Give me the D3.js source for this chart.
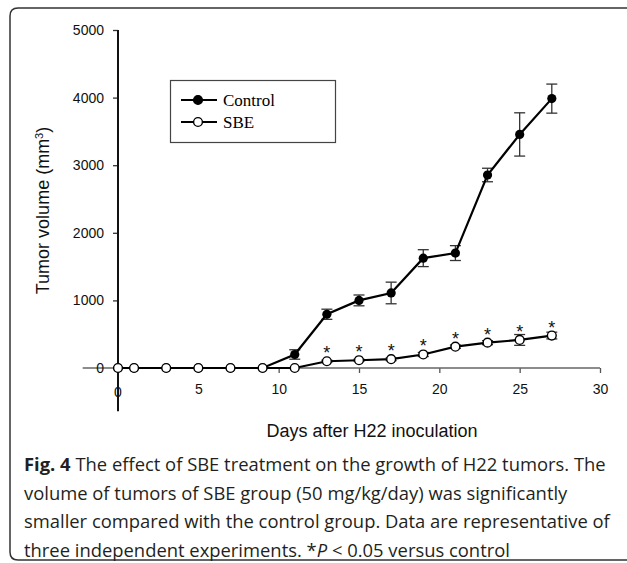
<!DOCTYPE html>
<html>
<head>
<meta charset="utf-8">
<script src="https://cdn.jsdelivr.net/npm/d3@7"></script>
<style>
  body { margin: 0; background: #fff; }
  svg { display: block; }
</style>
</head>
<body>
<div id="chart"></div>
<script>
// Days of measurement
const days = [0, 1, 3, 5, 7, 9, 11, 13, 15, 17, 19, 21, 23, 25, 27];

// Tumor volume (mm3), mean and error
const controlMean = [0, 0, 0, 0, 0, 0, 200, 795, 1000, 1110, 1625, 1700, 2855, 3455, 3985];
const controlErr  = [0, 0, 0, 0, 0, 0, 70, 75, 80, 160, 125, 110, 100, 320, 215];
const sbeMean = [0, 0, 0, 0, 0, 0, 0, 100, 115, 130, 200, 315, 375, 415, 480];
const sbeErr  = [0, 0, 0, 0, 0, 0, 0, 15, 15, 20, 30, 25, 30, 80, 50];
// significance marks (*P < 0.05)
const significant = [false, false, false, false, false, false, false, true, true, true, true, true, true, true, true];

const xTicks = [0, 5, 10, 15, 20, 25, 30];
const yTicks = [0, 1000, 2000, 3000, 4000, 5000];

const seriesNames = ["Control", "SBE"];

const captionLines = [
  [{ t: "Fig. 4", b: true }, { t: " The effect of SBE treatment on the growth of H22 tumors. The" }],
  [{ t: "volume of tumors of SBE group (50 mg/kg/day) was significantly" }],
  [{ t: "smaller compared with the control group. Data are representative of" }],
  [{ t: "three independent experiments. *" }, { t: "P", i: true }, { t: " < 0.05 versus control" }]
];

const W = 627, H = 563;

const svg = d3.select("#chart")
  .append("svg")
  .attr("width", W)
  .attr("height", H);

// Rounded frame (open on the right side)
svg.append("path")
  .attr("d", "M640,8 H18 Q10,8 10,16 V552 Q10,560 18,560 H640")
  .attr("fill", "none")
  .attr("stroke", "#333")
  .attr("stroke-width", 1.5);

const x = d3.scaleLinear().domain([0, 30]).range([118, 600]);
const y = d3.scaleLinear().domain([0, 5000]).range([368, 30]);

const tickFont = "Liberation Sans, Arial, sans-serif";

// X axis (gray, extends left past the y axis)
const xAxis = svg.append("g")
  .attr("transform", `translate(0,${y(0)})`)
  .call(d3.axisBottom(x).tickValues(xTicks.slice(1)).tickFormat(d3.format("d"))
    .tickSize(5).tickSizeOuter(0).tickPadding(11));
xAxis.select(".domain").remove();
xAxis.selectAll(".tick line").attr("stroke", "#555").attr("stroke-width", 1.3);
xAxis.selectAll(".tick text")
  .style("font-family", tickFont)
  .style("font-size", "14px")
  .attr("fill", "#111");
svg.append("line")
  .attr("x1", x(-2.2)).attr("x2", x(30))
  .attr("y1", y(0)).attr("y2", y(0))
  .attr("stroke", "#666")
  .attr("stroke-width", 1.5);

// Y axis
const yAxis = svg.append("g")
  .attr("transform", `translate(${x(0)},0)`)
  .call(d3.axisLeft(y).tickValues(yTicks).tickFormat(d3.format("d"))
    .tickSize(5).tickSizeOuter(0).tickPadding(9));
yAxis.select(".domain").remove();
yAxis.selectAll(".tick line").attr("stroke", "#333").attr("stroke-width", 1.3);
yAxis.selectAll(".tick text")
  .style("font-family", tickFont)
  .style("font-size", "14px")
  .attr("fill", "#111");

// x tick label "0" under the y axis line
svg.append("text")
  .attr("x", x(0))
  .attr("y", y(0) + 29)
  .attr("text-anchor", "middle")
  .style("font-family", tickFont)
  .style("font-size", "14px")
  .attr("fill", "#111")
  .text(xTicks[0]);

svg.append("line")
  .attr("x1", x(0)).attr("x2", x(0))
  .attr("y1", y(5000)).attr("y2", y(-640))
  .attr("stroke", "#111")
  .attr("stroke-width", 2);

// Axis titles
svg.append("text")
  .attr("x", 372)
  .attr("y", 437)
  .attr("text-anchor", "middle")
  .style("font-family", tickFont)
  .style("font-size", "18px")
  .attr("fill", "#111")
  .text("Days after H22 inoculation");

const yTitle = svg.append("text")
  .attr("transform", `translate(49,${y(2330)}) rotate(-90)`)
  .attr("text-anchor", "middle")
  .style("font-family", tickFont)
  .style("font-size", "18px")
  .attr("fill", "#111");
yTitle.append("tspan").text("Tumor volume (mm");
yTitle.append("tspan").attr("baseline-shift", "super").style("font-size", "11px").text("3");
yTitle.append("tspan").text(")");

// Build series rows
const control = days.map((d, i) => ({ day: d, v: controlMean[i], e: controlErr[i] }));
const sbe = days.map((d, i) => ({ day: d, v: sbeMean[i], e: sbeErr[i], sig: significant[i] }));

const line = d3.line().x(d => x(d.day)).y(d => y(d.v));

function drawErrors(data) {
  const g = svg.append("g");
  data.filter(d => d.e > 0).forEach(d => {
    const cx = x(d.day);
    g.append("line")
      .attr("x1", cx).attr("x2", cx)
      .attr("y1", y(d.v - d.e)).attr("y2", y(d.v + d.e))
      .attr("stroke", "#333").attr("stroke-width", 1.3);
    [d.v - d.e, d.v + d.e].forEach(v => {
      g.append("line")
        .attr("x1", cx - 5.5).attr("x2", cx + 5.5)
        .attr("y1", y(v)).attr("y2", y(v))
        .attr("stroke", "#333").attr("stroke-width", 1.3);
    });
  });
}

// Control series
drawErrors(control);
svg.append("path")
  .datum(control)
  .attr("d", line)
  .attr("fill", "none")
  .attr("stroke", "#000")
  .attr("stroke-width", 2.2);
svg.selectAll(".ctrl")
  .data(control)
  .enter().append("circle")
  .attr("cx", d => x(d.day))
  .attr("cy", d => y(d.v))
  .attr("r", 4.6)
  .attr("fill", "#000");

// SBE series
drawErrors(sbe);
svg.append("path")
  .datum(sbe)
  .attr("d", line)
  .attr("fill", "none")
  .attr("stroke", "#000")
  .attr("stroke-width", 2.2);
svg.selectAll(".sbe")
  .data(sbe)
  .enter().append("circle")
  .attr("cx", d => x(d.day))
  .attr("cy", d => y(d.v))
  .attr("r", 4.4)
  .attr("fill", "#fff")
  .attr("stroke", "#000")
  .attr("stroke-width", 1.4);

// Significance asterisks
svg.selectAll(".star")
  .data(sbe.filter(d => d.sig))
  .enter().append("text")
  .attr("x", d => x(d.day))
  .attr("y", d => y(d.v) - 2)
  .attr("text-anchor", "middle")
  .style("font-family", tickFont)
  .style("font-size", "18px")
  .attr("fill", "#111")
  .text("*");

// Legend
const legend = svg.append("g");
legend.append("rect")
  .attr("x", 170.5).attr("y", 80.5)
  .attr("width", 165).attr("height", 62)
  .attr("fill", "#fff")
  .attr("stroke", "#444")
  .attr("stroke-width", 1.2);
seriesNames.forEach((name, i) => {
  const ly = 100 + i * 22;
  legend.append("line")
    .attr("x1", 181).attr("x2", 217)
    .attr("y1", ly).attr("y2", ly)
    .attr("stroke", "#000").attr("stroke-width", 2.2);
  legend.append("circle")
    .attr("cx", 198).attr("cy", ly)
    .attr("r", 4.4)
    .attr("fill", i === 0 ? "#000" : "#fff")
    .attr("stroke", "#000")
    .attr("stroke-width", 1.4);
  legend.append("text")
    .attr("x", 223).attr("y", ly + 6)
    .style("font-family", "Liberation Serif, Times New Roman, serif")
    .style("font-size", "17px")
    .attr("fill", "#000")
    .text(name);
});

// Caption
const cap = svg.append("g")
  .style("font-family", "Open Sans, sans-serif")
  .style("font-size", "18.4px")
  .attr("fill", "#231f20");
captionLines.forEach((parts, i) => {
  const t = cap.append("text")
    .attr("x", 24)
    .attr("y", 471 + i * 28.5);
  parts.forEach(p => {
    t.append("tspan")
      .style("font-weight", p.b ? "bold" : null)
      .style("font-style", p.i ? "italic" : null)
      .text(p.t);
  });
});
</script>
</body>
</html>
